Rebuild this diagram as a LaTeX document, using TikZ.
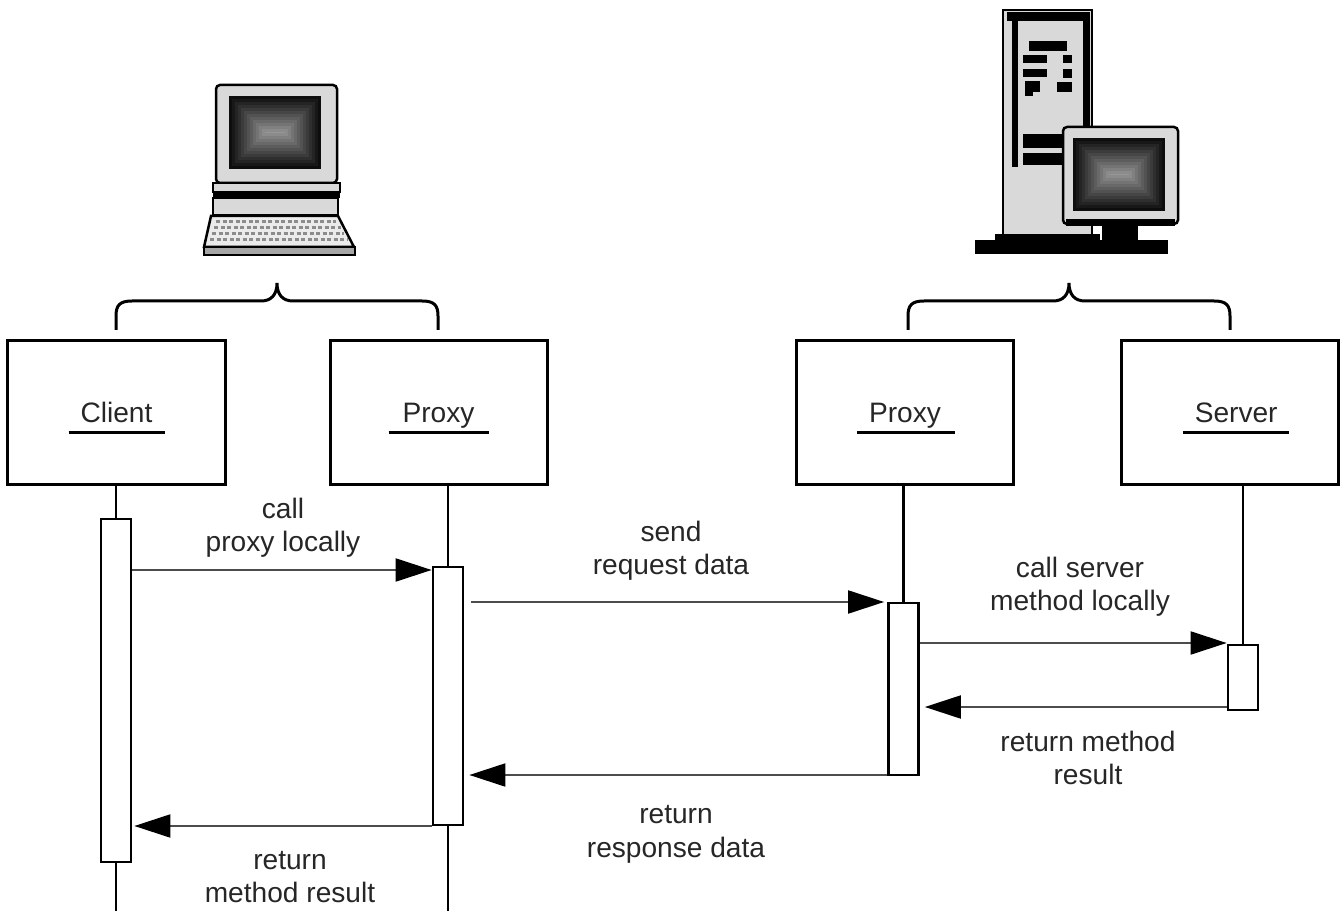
\documentclass[tikz,border=0pt]{standalone}
\usepackage{fontspec}
\setmainfont{Liberation Sans}
\usetikzlibrary{arrows.meta}

\begin{document}
\begin{tikzpicture}[x=0.2mm,y=-0.2mm]

\tikzset{obj/.style = {draw, line width=0.6mm, minimum width=43.4mm, minimum height=28.6mm, text height=11.5pt, text depth=0pt, font=\fontsize{16}{19}\selectfont, text=black!85}}
\tikzset{act/.style = {draw, fill=white, line width=0.55mm, minimum width=6mm, inner sep=0pt}}
\tikzset{life/.style = {line width=0.55mm}}
\tikzset{msg/.style = {-{Triangle[length=7.2mm,width=4.6mm,color=black]}, line width=0.4mm, draw=black!70}}
\tikzset{lbl/.style = {align=center, inner sep=0pt, font=\fontsize{16}{19}\selectfont, text=black!85}}
\tikzset{brace/.style = {line width=0.6mm}}
\tikzset{case/.style = {draw=black, line width=0.5mm, fill=black!15}}
%\draw[help lines] (0,0) grid[step=50] (1341,911);
\useasboundingbox (0,0) rectangle (1341,911);

% client machine
\draw[case, rounded corners=0.8mm] (216,85) rectangle (337,183);
\draw[case] (213,183) rectangle (340,192);
\fill (213,192) rectangle (340,198);
\draw[case] (213,198) rectangle (338,215);
\draw[case, fill=black!8] (211,216) -- (338,216) -- (354,247) -- (204,247) -- cycle;
\foreach \r/\a/\b in {222/216/336, 228/214/341, 234/212/344, 240/210/347}
  \draw[black!45, line width=0.6mm, dash pattern=on 0.8mm off 0.5mm] (\a,\r) -- (\b,\r);
\draw[case, fill=black!35] (204,247) rectangle (355,255);

% server machine
\draw[case] (1003,10) rectangle (1092,236);
\fill (1007,12) rectangle (1090,21);
\fill (1012,12) rectangle (1018,167);
\fill (1083,12) rectangle (1090,127);
% front panel marks
\fill (1029,41) rectangle (1067,51);
\fill (1023,55) rectangle (1047,63);
\fill (1063,55) rectangle (1072,63);
\fill (1023,69) rectangle (1047,77);
\fill (1063,69) rectangle (1072,78);
\fill (1025,81) rectangle (1040,92);
\fill (1025,92) rectangle (1033,96);
\fill (1057,82) rectangle (1072,92);
\fill (1023,134) rectangle (1063,148);
\fill (1023,153) rectangle (1063,165);
% stand and base
\fill (995,234) rectangle (1100,241);
\fill (975,240) rectangle (1168,254);
\fill (1102,226) rectangle (1138,241);
\draw[case, rounded corners=0.8mm] (1063,127) rectangle (1178,224);
\fill (1066,219) rectangle (1175,226);

% screens, shaded from the edge in
\foreach \sx/\sy in {229/96, 1073/138}
  \foreach \i in {0,...,12} {
    \pgfmathsetmacro\c{95-4.5*\i}
    \fill[black!\c!white] ({\sx+3*\i},{\sy+3*\i}) rectangle ({\sx+92-3*\i},{\sy+73-3*\i});
  }

% objects
\node[obj] (cl) at (116.5,412.5) {Client};
\node[obj] (px) at (438.5,412.5) {Proxy};
\node[obj] (ps) at (905,412.5) {Proxy};
\node[obj] (sv) at (1230,412.5) {\hspace*{7pt}Server};
\foreach \o/\w/\d in {cl/48/0, px/50/0, ps/49/1, sv/53/6}
  \draw[line width=0.5mm] ([shift={(\d-\w,20)}]\o.center) -- ([shift={(\d+\w,20)}]\o.center);

% braces over each machine
\foreach \a/\b in {116/438, 908/1230} {
  \pgfmathsetmacro\m{(\a+\b)/2}
  \draw[brace] (\a,330) -- (\a,316) .. controls (\a,305) and ({\a+4},301) .. ({\a+16},301)
    -- ({\m-16},301) .. controls ({\m-6},301) and (\m,295) .. (\m,283)
    .. controls (\m,295) and ({\m+6},301) .. ({\m+16},301)
    -- ({\b-16},301) .. controls ({\b-4},301) and (\b,305) .. (\b,316) -- (\b,330);
}

% lifelines
\coordinate (clend) at (116,915);
\coordinate (pxend) at (448,915);
\draw[life] (116,484) -- (116,519);
\draw[life] (116,862) -- (clend);
\draw[life] (448,484) -- (448,567);
\draw[life] (448,825) -- (pxend);
\draw[life] (903.5,484) -- (903.5,603);
\draw[life] (1243,484) -- (1243,645);

% activations
\node[act, minimum height=68.6mm] (cla) at (116,690.5) {};
\node[act, minimum height=51.6mm] (pxa) at (448,696) {};
\node[act, minimum height=34.4mm] (psa) at (903.5,689) {};
\node[act, minimum height=13mm] (sva) at (1243,677.5) {};

% messages
\draw[msg] (cla.east |- 0,570) -- (pxa.west |- 0,570);
\draw[msg, shorten <=1.4mm, shorten >=0.6mm] (pxa.east |- 0,602) -- (psa.west |- 0,602);
\draw[msg] (psa.east |- 0,643) -- (sva.west |- 0,643);
\draw[msg, shorten >=1mm] (sva.west |- 0,707) -- (psa.east |- 0,707);
\draw[msg, shorten >=1mm] (psa.west |- 0,775) -- (pxa.east |- 0,775);
\draw[msg, shorten >=0.4mm] (pxa.west |- 0,826) -- (cla.east |- 0,826);

\node[lbl] (m1) at (283,528) {call\\proxy locally};
\node[lbl] (m2) at (671,550.5) {send\\request data};
\node[lbl] (m3) at (1080,586.5) {call server\\method locally};
\node[lbl] (m4) at (1088,758) {return method\\result};
\node[lbl] (m5) at (676,834.5) {return\\response data};
\node[lbl] (m6) at (290,877) {return\\method result};
\end{tikzpicture}
\end{document}
